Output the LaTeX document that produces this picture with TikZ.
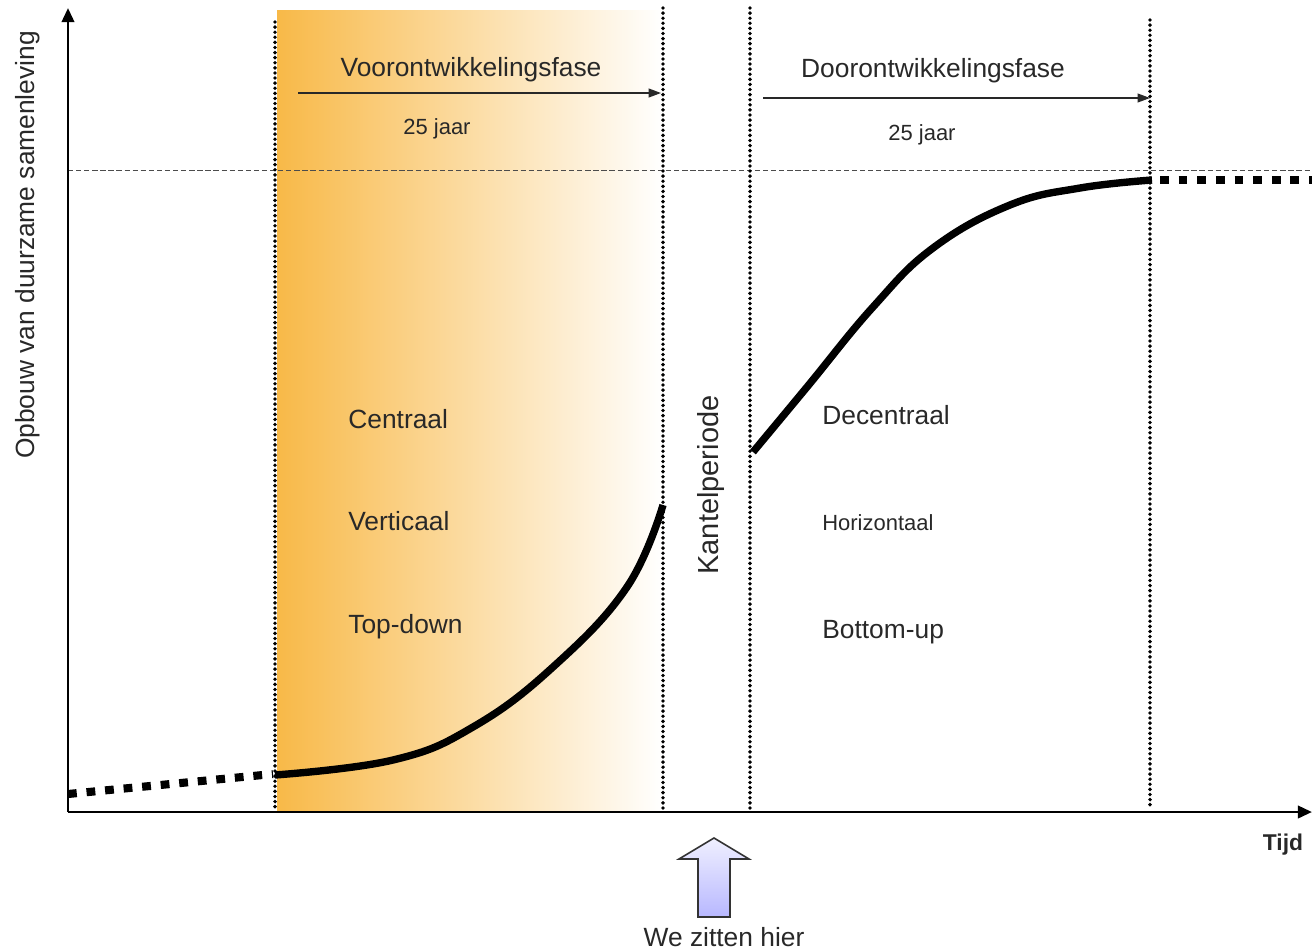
\documentclass[tikz,border=0pt]{standalone}
\usepackage{fontspec}
\setmainfont{Liberation Sans}
\usetikzlibrary{positioning, arrows.meta}
\definecolor{faseoranje}{RGB}{248,185,72}
\definecolor{tekstgrijs}{RGB}{40,40,40}

\begin{document}
\begin{tikzpicture}[x=0.02cm, y=-0.02cm,
		lbl/.style={anchor=base west, inner sep=0pt, text=tekstgrijs, font=\fontsize{15}{18}\selectfont},
		grens/.style={line width=2.2pt, line cap=round, dash pattern=on 0pt off 2.9pt},
		spoor/.style={line width=4.6pt, dash pattern=on 5pt off 5.6pt},
		groei/.style={line width=4.2pt},
		fasepijl/.style={-{Triangle[length=7pt,width=5pt]}, line width=0.8pt, tekstgrijs},
		as/.style={-{Triangle[length=8pt,width=7pt]}, line width=1.6pt}]
	\useasboundingbox (0,0) rectangle (1312,951);
	% voorontwikkelingsfase
	\shade[left color=faseoranje, middle color=faseoranje!35, right color=white] (277,10) rectangle (663,810);
	\draw[dashed, line width=0.5pt, black!70, dash pattern=on 3pt off 1.6pt] (68,170) -- (1312,170);
	\foreach \x/\ytop in {275/22, 663/8, 750/8, 1150/20}
		\draw[grens] (\x,\ytop) -- (\x,808);
	% assen
	\coordinate (oorsprong) at (68,812);
	\coordinate (ytop) at (68,8);
	\coordinate (xeind) at (1312,812);
	\draw[as] (oorsprong) -- (ytop);
	\draw[as] (oorsprong) -- (xeind);
	% curve
	\draw[spoor] (68,794) -- (273,774);
	\draw[groei] plot[smooth, tension=0.7] coordinates {(275,775) (393,760) (473,727) (553,667) (627,587) (663,505)};
	\draw[groei] plot[smooth, tension=0.7] coordinates {(753,452) (807,387) (873,307) (933,248) (1010,205) (1080,188) (1152,180)};
	\draw[spoor] (1160,180) -- (1312,180);
	% fasen
	\coordinate (voorstart) at (298,93);
	\coordinate (voorend) at (661,93);
	\coordinate (doorstart) at (763,98);
	\coordinate (doorend) at (1150,98);
	\draw[fasepijl] (voorstart) -- (voorend);
	\draw[fasepijl] (doorstart) -- (doorend);
	\node (voorfase) [anchor=base, text=tekstgrijs, font=\fontsize{15}{18}\selectfont] at (471,76) {Voorontwikkelingsfase};
	\node (voorjaar) [anchor=base, text=tekstgrijs, font=\fontsize{12.5}{15}\selectfont] at (437,134) {25 jaar};
	\node (doorfase) [anchor=base, text=tekstgrijs, font=\fontsize{15}{18}\selectfont] at (933,77) {Doorontwikkelingsfase};
	\node (doorjaar) [anchor=base, text=tekstgrijs, font=\fontsize{12.5}{15}\selectfont] at (922,140) {25 jaar};
	\node (centraal) [lbl] at (348,428) {Centraal};
	\node (verticaal) [lbl] at (348,530) {Verticaal};
	\node (topdown) [lbl] at (348,633) {Top-down};
	\node (decentraal) [lbl] at (822,424) {Decentraal};
	\node (horizontaal) [lbl, font=\fontsize{12.5}{15}\selectfont] at (822,530) {Horizontaal};
	\node (bottomup) [lbl] at (822,638) {Bottom-up};
	\node (kantel) [rotate=90, text=tekstgrijs, font=\fontsize{16.5}{19}\selectfont] at (711,485) {Kantelperiode};
	\node (yas) [rotate=90, text=tekstgrijs, font=\fontsize{15}{18}\selectfont] at (28,245) {Opbouw van duurzame samenleving};
	\node (tijd) [font=\bfseries\fontsize{13}{16}\selectfont, text=tekstgrijs] at (1283,845) {Tijd};
	% we zitten hier
	\coordinate (hier) at (714,838);
	\draw[line width=0.9pt, black!80, top color=blue!6, bottom color=blue!28] (hier) -- (749,859) -- (730,859) -- (730,917) -- (698,917) -- (698,859) -- (679,859) -- cycle;
	\node (hiertekst) [text=tekstgrijs, font=\fontsize{15}{18}\selectfont] at (724,937) {We zitten hier};
\end{tikzpicture}
\end{document}
